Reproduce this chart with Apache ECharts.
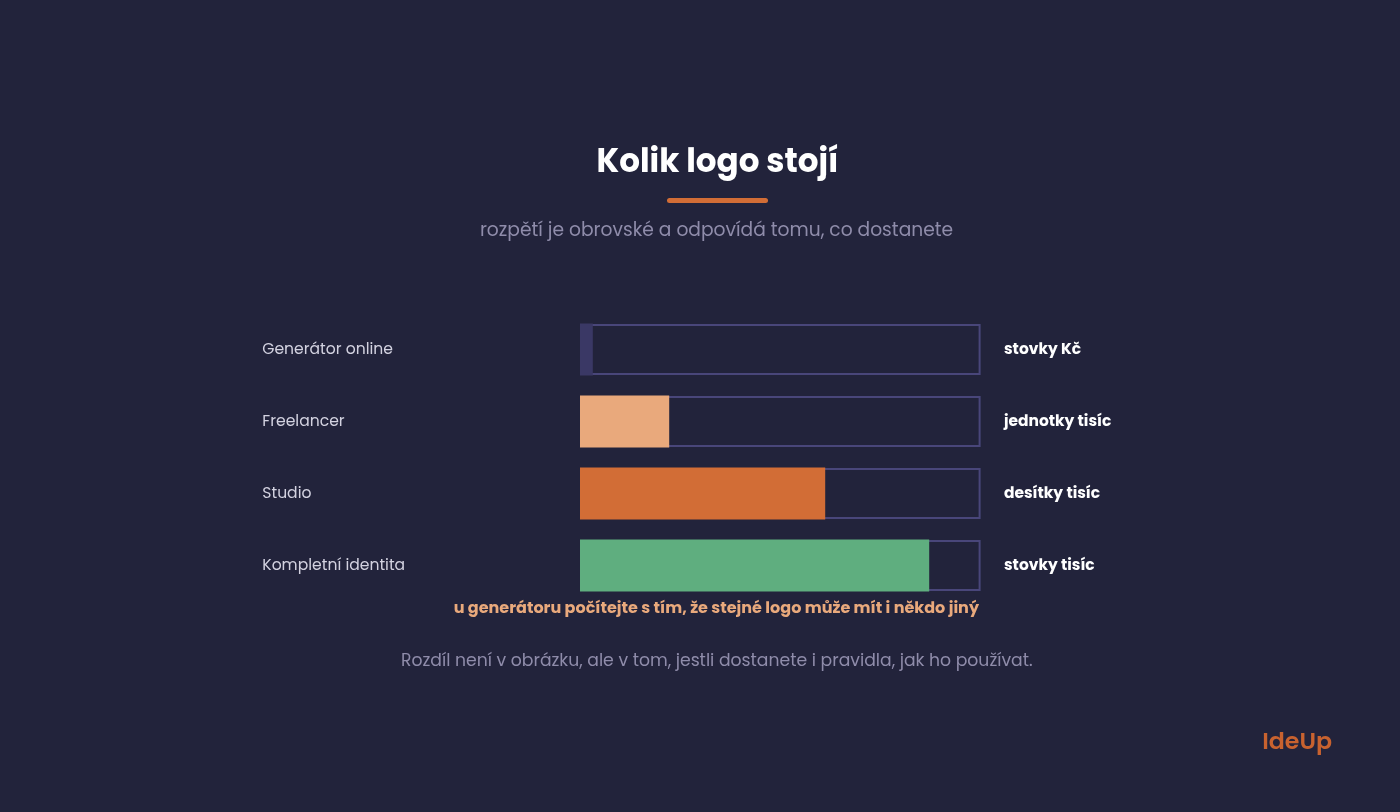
<!DOCTYPE html>
<html><head><meta charset="utf-8">
<style>html,body{margin:0;padding:0;background:#22233b}#c{width:1400px;height:812px}</style>
<script src="https://cdn.jsdelivr.net/npm/echarts@6/dist/echarts.min.js"></script>
</head><body><div id="c"></div>
<script>
const categories = ["Generátor online","Freelancer","Studio","Kompletní identita"];
const values = [3.2,22.3,61.3,87.3];
const trackStart = [0.25,0.25,0.25,0.25];
const trackValues = [99.9,99.9,99.9,99.9];
const valueLabels = ["stovky Kč","jednotky tisíc","desítky tisíc","stovky tisíc"];
const barColors = ["#3a3865","#e9a97c","#d26d36","#5fae7f"];
const titleText = "Kolik logo stojí";
const subtitleText = "rozpětí je obrovské a odpovídá tomu, co dostanete";
const noteText = "u generátoru počítejte s tím, že stejné logo může mít i někdo jiný";
const footerText = "Rozdíl není v obrázku, ale v tom, jestli dostanete i pravidla, jak ho používat.";
const brandText = "IdeUp";
const F = "Poppins, 'Open Sans', 'Noto Sans', sans-serif";
const chart = echarts.init(document.getElementById('c'),null,{renderer:'canvas'});
chart.setOption({
 backgroundColor:'#22233b',animation:false,
 grid:{left:580,top:313.5,width:401,height:288,containLabel:false},
 xAxis:{type:'value',min:0,max:100.25,show:false},
 yAxis:[
  {type:'category',inverse:true,data:categories,axisLine:{show:false},axisTick:{show:false},
   axisLabel:{margin:317.7,align:'left',formatter:'{a|{value}}',
    rich:{a:{color:'#d3d2e0',fontFamily:F,fontSize:15.6,padding:[2,0,0,0]}}}},
  {type:'category',inverse:true,data:categories,show:false}
 ],
 series:[
  {type:'bar',yAxisIndex:1,stack:'track',data:trackStart,barWidth:51,silent:true,z:1,
   itemStyle:{color:'rgba(0,0,0,0)',borderWidth:0}},
  {type:'bar',yAxisIndex:1,stack:'track',data:trackValues,barWidth:51,silent:true,z:1,
   itemStyle:{color:'rgba(0,0,0,0)',borderColor:'#49467a',borderWidth:2},
   label:{show:true,position:'right',distance:23.4,offset:[0,1],color:'#fff',fontFamily:F,fontWeight:'bold',fontSize:15.45,
    formatter:p=>valueLabels[p.dataIndex]}},
  {type:'bar',yAxisIndex:0,data:values.map((v,i)=>({value:v,itemStyle:{color:barColors[i]}})),barWidth:52,z:2}
 ],
 graphic:[
  {type:'text',x:717.5,y:164,style:{text:titleText,fill:'#fff',font:'bold 32.6px '+F,align:'center',verticalAlign:'middle'}},
  {type:'rect',shape:{x:667,y:198,width:101,height:5,r:2.5},style:{fill:'#d26d36'}},
  {type:'text',x:716.5,y:231.5,style:{text:subtitleText,fill:'#8f8caa',font:'18.66px '+F,align:'center',verticalAlign:'middle'}},
  {type:'text',x:979,y:609,style:{text:noteText,fill:'#e9a97c',font:'bold 16px '+F,align:'right',verticalAlign:'middle'}},
  {type:'text',x:716.8,y:661.5,style:{text:footerText,fill:'#8f8caa',font:'17.23px '+F,align:'center',verticalAlign:'middle'}},
  {type:'text',x:1332,y:743.5,style:{text:brandText,fill:'#c8622f',font:'600 23.7px '+F,align:'right',verticalAlign:'middle'}}
 ]
});
</script></body></html>
